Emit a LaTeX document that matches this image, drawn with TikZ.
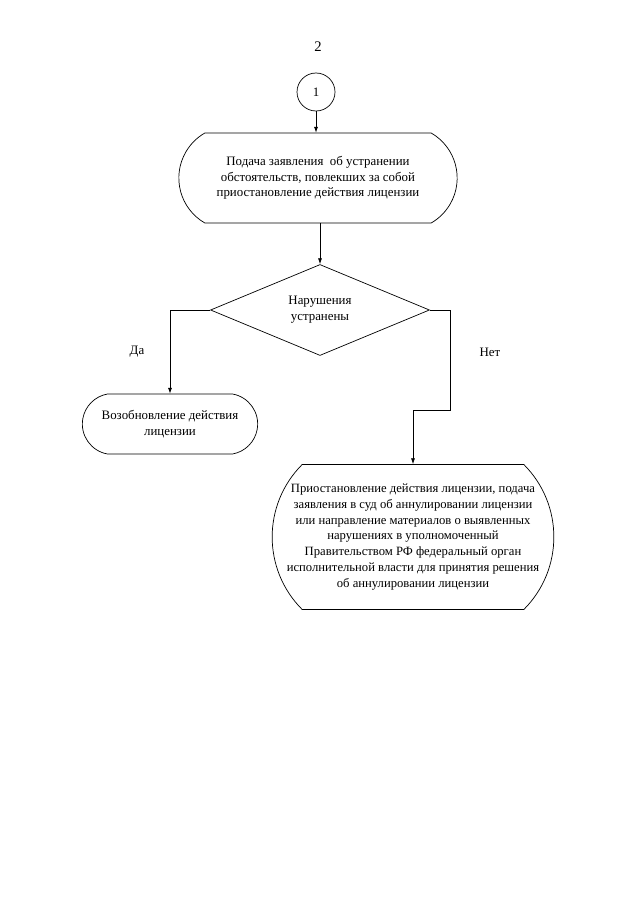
\documentclass[tikz,border=0pt]{standalone}
\usepackage{fontspec}
\setmainfont{Liberation Serif}
\usetikzlibrary{shapes.geometric,shapes.misc,arrows.meta}

\tikzset{
  term/.style={draw, rounded rectangle, align=center, inner sep=2pt},
  cond/.style={draw, diamond, align=center, inner sep=0pt},
  arr/.style={-{Latex[length=5pt,width=3.5pt]}},
}

\begin{document}
\begin{tikzpicture}[x=0.03cm, y=-0.03cm, font=\fontsize{11}{13.4}\selectfont, line width=0.6pt]
            \useasboundingbox (0,0) rectangle (640,905);

            \node (page) at (318,47) {\fontsize{12.5}{14}\selectfont 2};
            \node[draw, circle, minimum size=1.14cm] (c1) at (316,92) {1};
            \node[term, minimum width=8.49cm, minimum height=2.7cm, rounded rectangle arc length=120] (t1) at (318,178)
                {Подача заявления\ \ об устранении\\обстоятельств, повлекших за собой\\приостановление действия лицензии};
            \node[cond, minimum width=6.57cm, minimum height=2.73cm] (d) at (320,310)
                {Нарушения\\устранены};
            \node[term, minimum width=5.4cm, minimum height=1.8cm, rounded rectangle arc length=160] (t2) at (170,424)
                {Возобновление действия\\лицензии};
            \node[term, minimum width=8.4cm, minimum height=4.35cm, rounded rectangle arc length=90, inner xsep=0pt,
                  font=\fontsize{10.8}{13.4}\selectfont] (t3) at (413,537)
                {Приостановление действия лицензии, подача\\заявления в суд об аннулировании лицензии\\или направление материалов о выявленных\\нарушениях в уполномоченный\\Правительством РФ федеральный орган\\исполнительной власти для принятия решения\\об аннулировании лицензии};
            \coordinate (bend) at (450,410);

            \draw[arr] (c1.south) -- (c1.south |- t1.north);
            \draw[arr] (t1.south -| d.north) -- (d.north);
            \draw[arr] (d.west) -| (t2.north);
            \draw[arr] (d.east) -| (bend) -| (t3.north);

            \node (yes) at (137,352) {Да};
            \node (no) at (490,352) {Нет};
        \end{tikzpicture}
\end{document}
